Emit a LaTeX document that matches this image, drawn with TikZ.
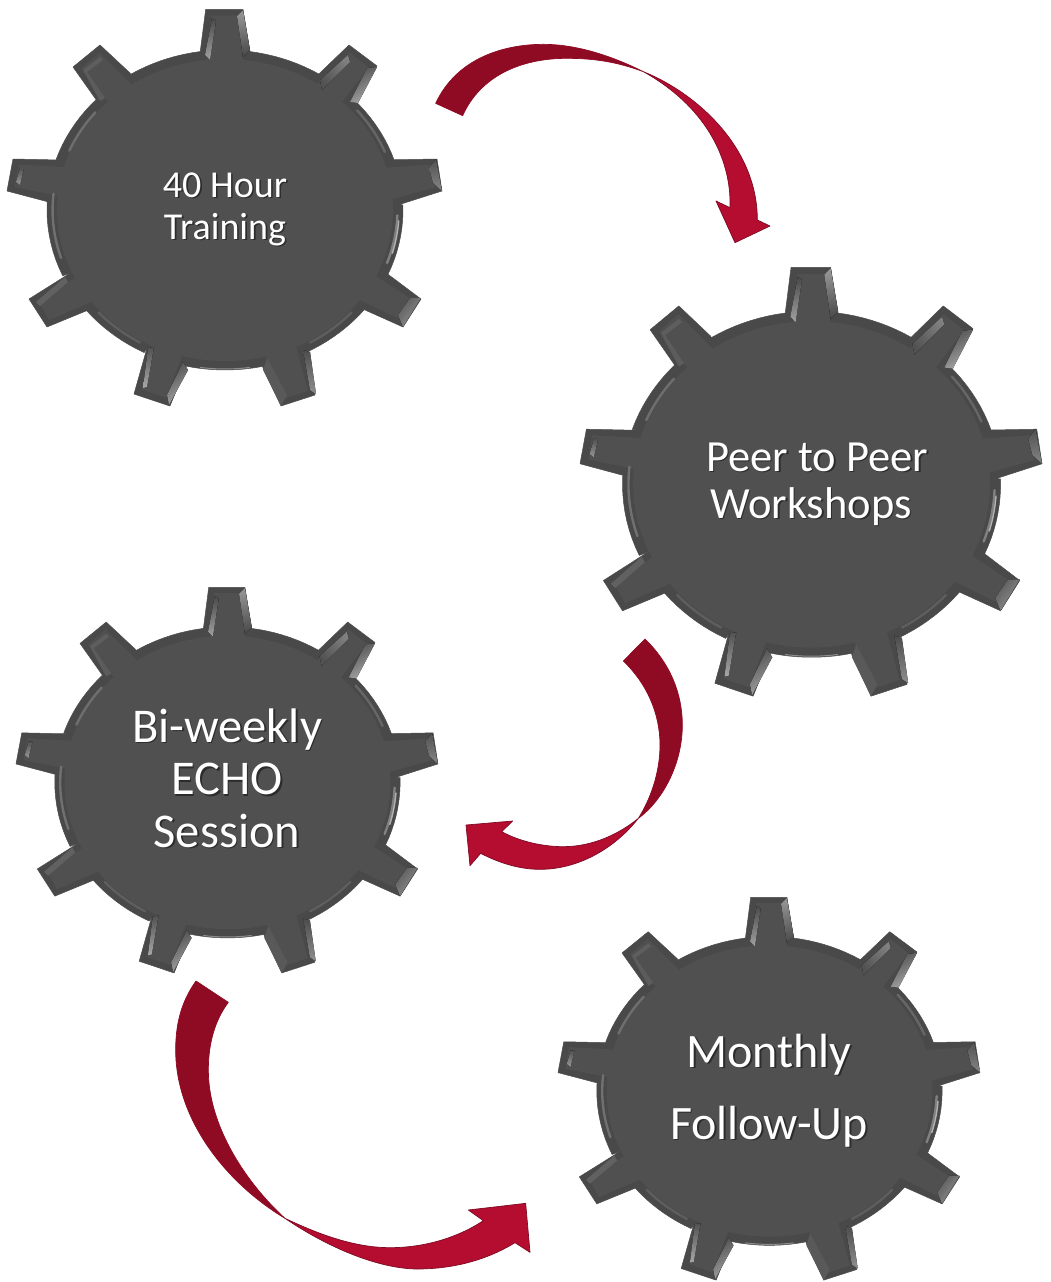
\documentclass[tikz,border=0pt]{standalone}
\usepackage{fontspec}
\setmainfont{Carlito}
\definecolor{gearbody}{HTML}{505050}
\definecolor{gearband}{HTML}{494949}
\definecolor{gearedge}{HTML}{4C4C4C}
\definecolor{txtshade}{HTML}{2C2C2C}
\definecolor{arrdark}{HTML}{8F0A23}
\definecolor{arrbright}{HTML}{B50D2F}
\definecolor{arredge}{HTML}{7E0A25}
\newcommand{\shtxt}[1]{\leavevmode\rlap{\kern1.6pt\raisebox{-1.6pt}{\textcolor{txtshade}{#1}}}#1}
\newcommand{\earc}[2]{-- plot[domain=#1:#2,samples=10]({225+178*cos(\x)},{210-160*sin(\x)})}
\newcommand{\rimarc}[3]{plot[domain=#1:#2,samples=10]({225+#3*1.1125*cos(\x)},{210-#3*sin(\x)})}
% band-inset core of one tooth: tip O1,O2 and base B2,B1
\newcommand{\toothcore}[8]{%
  \pgfmathsetmacro{\ax}{#1+.17*(#3-#1)+.14*(#7-#1)}\pgfmathsetmacro{\ay}{#2+.17*(#4-#2)+.14*(#8-#2)}%
  \pgfmathsetmacro{\bx}{#3+.17*(#1-#3)+.14*(#5-#3)}\pgfmathsetmacro{\by}{#4+.17*(#2-#4)+.14*(#6-#4)}%
  \pgfmathsetmacro{\cx}{#5+.17*(#7-#5)+.25*(#5-#3)}\pgfmathsetmacro{\cy}{#6+.17*(#8-#6)+.25*(#6-#4)}%
  \pgfmathsetmacro{\dx}{#7+.17*(#5-#7)+.25*(#7-#1)}\pgfmathsetmacro{\dy}{#8+.17*(#6-#8)+.25*(#8-#2)}%
  \fill[gearbody] (\ax,\ay)--(\bx,\by)--(\cx,\cy)--(\dx,\dy)--cycle;}
\tikzset{
  rimline/.style={line width=2.4pt,line cap=round},
  geartext/.style={text=white,align=center,inner sep=0pt},
  arrowpart/.style={draw=arredge,line width=.7pt,line join=round}
}
\newcommand{\gearshape}[4]{%
\begin{scope}[shift={(#3,#4)},xscale=#1,yscale=#2]
  \fill[gearband,draw=gearedge,line width=.5pt,line join=round]
    (205.7,9.3)--(243,9.3)--(250,52) \earc{82}{58.2}
    --(349,45)--(377,66)--(350,103) \earc{43.6}{18.3}
    --(437,159)--(442,191)--(398,205) \earc{1.8}{-23.7}
    --(421,299)--(403,327)--(365,310) \earc{-38.5}{-63.2}
    --(315,395)--(281,406)--(263,368) \earc{-77.8}{-102.6}
    --(170,406)--(134,394)--(147,348) \earc{-117}{-141}
    --(47,327)--(29,299)--(72,272) \earc{-155.7}{-183}
    --(7,191)--(13,159)--(60,160) \earc{161.4}{136.4}
    --(73,67)--(100,45)--(130,73) \earc{122}{98} --cycle;
  \toothcore{205.7}{9.3}{243}{9.3}{250}{52}{200}{52}
  \toothcore{349}{45}{377}{66}{350}{103}{320}{72}
  \toothcore{437}{159}{442}{191}{398}{205}{393}{160}
  \toothcore{421}{299}{403}{327}{365}{310}{382}{272}
  \toothcore{315}{395}{281}{406}{263}{368}{305}{352}
  \toothcore{170}{406}{134}{394}{147}{348}{187}{363}
  \toothcore{47}{327}{29}{299}{72}{272}{85}{312}
  \toothcore{7}{191}{13}{159}{60}{160}{55}{202}
  \toothcore{73}{67}{100}{45}{130}{73}{100}{103}
  \fill[gearbody] (225,210) ellipse[x radius=168,y radius=151];
  % lit facets of the teeth
  \fill[left color=black!70,right color=black!38,shading angle=10] (212,18)--(216,21)--(210,60)--(205,55)--cycle;
  \fill[left color=black!42,right color=black!70,shading angle=10] (237,16)--(243,10)--(250,50)--(243,57)--cycle;
  \fill[left color=black!68,right color=black!50,shading angle=135] (348,55)--(350,62)--(322,90)--(320,80)--cycle;
  \fill[left color=black!68,right color=black!34,shading angle=30] (377,67)--(367,68)--(350,102)--(358,103)--cycle;
  \fill[left color=black!68,right color=black!48,shading angle=0] (436,159)--(442,191)--(433,183)--(429,168)--cycle;
  \fill[left color=black!64,right color=black!42,shading angle=50] (421,298)--(403,327)--(398,315)--(410,298)--cycle;
  \fill[left color=black!68,right color=black!34,shading angle=0] (148,348)--(154,347)--(147,387)--(143,388)--cycle;
  \fill[left color=black!68,right color=black!36,shading angle=30] (183,362)--(188,370)--(169,405)--(167,395)--cycle;
  \fill[left color=black!70,right color=black!44,shading angle=0] (303,350)--(310,352)--(316,394)--(310,390)--cycle;
  \fill[black!65] (267,358)--(263,370)--(281,406)--(287,395)--cycle;
  \fill[left color=black!68,right color=black!40,shading angle=0] (20,168)--(24,168)--(20,185)--(16,182)--cycle;
  \fill[black!62] (36,302)--(65,277)--(68,282)--(40,306)--cycle;
  \fill[black!63] (83,70)--(100,57)--(103,60)--(87,72)--cycle;
  \fill[black!64] (83,70)--(87,72)--(105,98)--(100,101)--cycle;
  % lit stretches of the rim
  \draw[rimline,black!50] \rimarc{-2}{-20}{155};
  \draw[rimline,line width=1.4pt,black!30] \rimarc{-4}{-16}{156.5};
  \draw[rimline,black!60] \rimarc{40}{22}{155};
  \draw[rimline,black!57] \rimarc{157}{140}{152};
  \draw[rimline,black!56] \rimarc{174}{198}{155};
  \draw[rimline,black!63] \rimarc{-120}{-138}{153};
  \draw[rimline,black!63] \rimarc{-42}{-60}{153};
  \draw[rimline,line width=1pt,black!45] \rimarc{-82}{-98}{159};
\end{scope}}
\begin{document}
\begin{tikzpicture}[x=1pt,y=-1pt]
\useasboundingbox (0,0) rectangle (1050,1282);
\fill[white] (0,0) rectangle (1050,1282);
\gearshape{1}{1}{0}{0}
\gearshape{1.062}{1.081}{572.6}{257.3}
\gearshape{.97}{.972}{9.2}{578.3}
\gearshape{.97}{.965}{551.2}{888.3}
\node[geartext,font=\fontsize{38}{42}\selectfont] (g1) at (225,210) {\shtxt{40 Hour}\\\shtxt{Training}};
\node[geartext,font=\fontsize{44.5}{47}\selectfont] (g2) at (814,485) {\hspace*{6pt}\shtxt{Peer to Peer}\\\shtxt{Workshops}\hspace*{6pt}};
\node[geartext,font=\fontsize{48.5}{52.5}\selectfont] (g3) at (227,779) {\shtxt{Bi-weekly}\\\shtxt{ECHO}\\\shtxt{Session}};
\node[geartext,font=\fontsize{48}{72}\selectfont] (g4) at (769,1091) {\shtxt{Monthly}\\\shtxt{Follow-Up}};
% arrow 1
\begin{scope}[shift={(420,30)},scale=1/3]
\fill[arrbright,arrowpart] (670,125) .. controls (820,185) and (1012,345) .. (1012,570) -- (1050,588) -- (945,638) -- (888,513) -- (930,533) .. controls (935,380) and (850,225) .. (670,125) -- cycle;
\fill[arrdark,arrowpart,draw=arrdark] (47,220) .. controls (110,85) and (250,43) .. (370,43) .. controls (480,43) and (590,85) .. (670,125) .. controls (590,95) and (520,85) .. (440,85) .. controls (300,85) and (180,140) .. (128,257) -- cycle;
\end{scope}
% arrow 2
\begin{scope}[shift={(450,630)},scale=1/3]
\fill[arrbright,arrowpart] (565,565) .. controls (490,660) and (380,718) .. (270,718) .. controls (210,718) and (150,700) .. (92,670) -- (60,707) -- (48,585) -- (188,573) -- (155,605) .. controls (210,635) and (280,650) .. (340,650) .. controls (430,650) and (510,610) .. (565,565) -- cycle;
\fill[arrdark,arrowpart,draw=arrdark] (585,27) .. controls (660,100) and (697,190) .. (697,285) .. controls (697,400) and (640,510) .. (565,565) .. controls (600,510) and (630,430) .. (630,345) .. controls (630,250) and (590,160) .. (520,93) -- cycle;
\end{scope}
% arrow 3
\begin{scope}[shift={(160,970)},scale=1/3]
\fill[arrbright,arrowpart] (375,745) .. controls (500,830) and (650,895) .. (770,897) .. controls (880,897) and (980,870) .. (1065,818) -- (1110,847) -- (1097,700) -- (925,720) -- (970,752) .. controls (890,805) and (790,833) .. (690,833) .. controls (580,833) and (470,790) .. (375,745) -- cycle;
\fill[arrdark,arrowpart,draw=arrdark] (108,33) .. controls (60,100) and (47,170) .. (47,240) .. controls (47,450) and (200,640) .. (375,745) .. controls (260,640) and (145,470) .. (145,300) .. controls (145,220) and (165,150) .. (205,97) -- cycle;
\end{scope}
\end{tikzpicture}
\end{document}
